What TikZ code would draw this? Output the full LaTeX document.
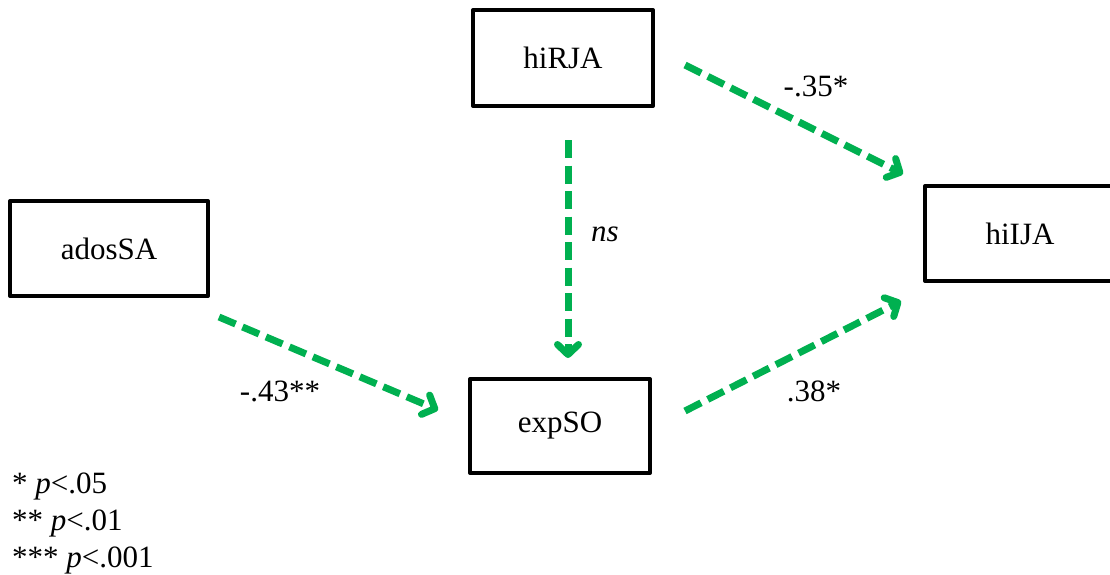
\documentclass[tikz,border=0pt]{standalone}
\usepackage{fontspec}
\setmainfont{Liberation Serif}
\usetikzlibrary{arrows.meta,calc}
\definecolor{pathgreen}{RGB}{0,176,80}

\begin{document}
\begin{tikzpicture}[x=1pt,y=-1pt,
  var/.style={draw=black,line width=4pt,rectangle,inner sep=0pt,line join=round,
              font=\fontsize{31}{37}\selectfont},
  effect/.style={draw=pathgreen,line width=7pt,dash pattern=on 18pt off 7.5pt,
                 -{Straight Barb[length=10pt,width=21pt,round]}},
  coef/.style={anchor=base,font=\fontsize{31}{37}\selectfont},
  legend/.style={anchor=base west,font=\fontsize{31}{37}\selectfont,inner sep=0pt},
]
\useasboundingbox (0,0) rectangle (1110,575);
\clip (0,0) rectangle (1110,575);

% variables
\node[var,minimum width=180pt,minimum height=96pt] (hiRJA)  at (563,58)    {hiRJA};
\node[var,minimum width=198pt,minimum height=95pt] (adosSA) at (109,248.5) {adosSA};
\node[var,minimum width=180pt,minimum height=94pt] (expSO)  at (560,426)   {expSO};
\node[var,minimum width=190pt,minimum height=95pt] (hiIJA)  at (1020,233.5){hiIJA};

% paths
\draw[effect] ($(hiRJA.east)+(30,7)$) -- ($(hiIJA.north west)+(-20,-10)$);
\draw[effect] ($(hiRJA.south)+(5,32)$) -- ($(expSO.north)+(8,-19)$);
\draw[effect] ($(adosSA.south east)+(9,19)$) -- ($(expSO.west)+(-30,-16)$);
\draw[effect] ($(expSO.east)+(33,-15)$) -- ($(hiIJA.south west)+(-22,18)$);

% coefficients
\node[coef] (c1) at (816,97)  {-.35*};
\node[coef] (c2) at (605,241) {\textit{ns}};
\node[coef] (c3) at (280,401) {-.43**};
\node[coef] (c4) at (814,401) {.38*};

% significance legend
\node[legend] (l1) at (12,493) {* \textit{p}<.05};
\node[legend] (l2) at (12,530) {** \textit{p}<.01};
\node[legend] (l3) at (12,567) {*** \textit{p}<.001};
\end{tikzpicture}
\end{document}
